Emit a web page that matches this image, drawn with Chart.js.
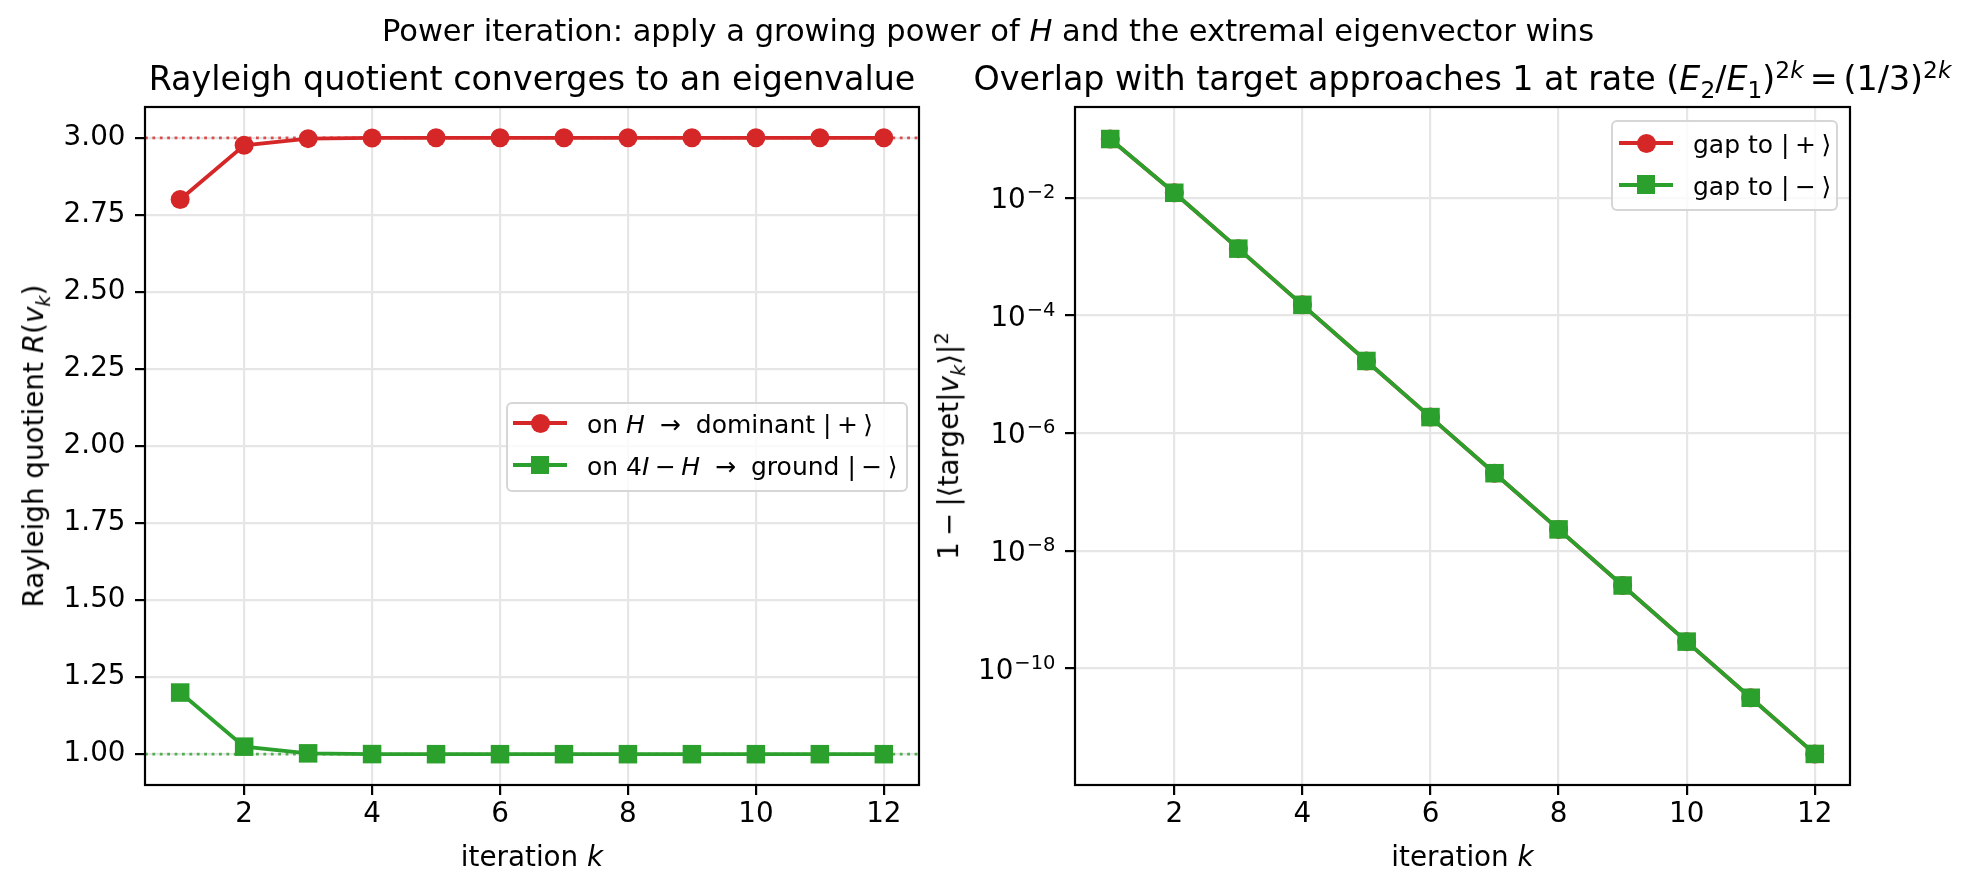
<!DOCTYPE html>
<html><head><meta charset="utf-8">
<script src="https://cdn.jsdelivr.net/npm/chart.js@4/dist/chart.umd.min.js"></script>
<style>
html,body{margin:0;padding:0;background:#fff;}
body{width:1976px;height:892px;position:relative;overflow:hidden;font-family:"DejaVu Sans",sans-serif;color:#000;}
canvas{position:absolute;top:0;}
.t{position:absolute;white-space:nowrap;line-height:1;}
.c{transform:translateX(-50%);}
.r{transform:translate(-50%,-50%) rotate(-90deg);}
sub,sup{font-size:70%;line-height:0;}
.bin{margin:0 0.22em;}
.rel{margin:0 0.28em;}
.eq{margin:0 0.18em;}
.leg{position:absolute;border:2px solid rgba(204,204,204,0.8);background:rgba(255,255,255,0.8);border-radius:6px;box-sizing:border-box;}
.hl{position:absolute;height:4px;margin-top:-2px;}
.mk{position:absolute;}
</style>
</head><body>
<canvas id="left" width="960" height="892" style="left:0px"></canvas>
<canvas id="right" width="1016" height="892" style="left:960px"></canvas>

<div class="t c" style="left:988px;top:16px;font-size:30.5px;">Power iteration: apply a growing power of <i>H</i> and the extremal eigenvector wins</div>
<div class="t c" style="left:532px;top:62px;font-size:33.3px;">Rayleigh quotient converges to an eigenvalue</div>
<div class="t c" style="left:1462.5px;top:62px;font-size:33.3px;">Overlap with target approaches 1 at rate (<i>E</i><sub>2</sub>/<i>E</i><sub>1</sub>)<sup>2<i>k</i></sup><span class="eq">=</span>(1/3)<sup>2<i>k</i></sup></div>
<div class="t c" style="left:532px;top:842.5px;font-size:27.8px;">iteration <i>k</i></div>
<div class="t c" style="left:1462.5px;top:842.5px;font-size:27.8px;">iteration <i>k</i></div>
<div class="t r" style="left:34px;top:446px;font-size:27.8px;">Rayleigh quotient <i>R</i>(<i>v</i><sub><i>k</i></sub>)</div>
<div class="t r" style="left:949px;top:446px;font-size:27.8px;">1<span class="bin">−</span>|⟨target|<i>v</i><sub><i>k</i></sub>⟩|<sup>2</sup></div>

<div class="leg" style="left:506px;top:402px;width:402px;height:90px;"></div>
<div class="hl" style="left:513px;top:423px;width:54px;background:#d62728;"></div>
<div class="mk" style="left:530.5px;top:413.5px;width:19px;height:19px;border-radius:50%;background:#d62728;"></div>
<div class="t" style="left:587px;top:412px;font-size:25px;">on <i>H</i> <span class="rel">→</span> dominant |<span class="bin">+</span>⟩</div>
<div class="hl" style="left:513px;top:465px;width:54px;background:#2ca02c;"></div>
<div class="mk" style="left:530.75px;top:455.75px;width:18.5px;height:18.5px;background:#2ca02c;"></div>
<div class="t" style="left:587px;top:454px;font-size:25px;">on 4<i>I</i><span class="bin">−</span><i>H</i> <span class="rel">→</span> ground |<span class="bin">−</span>⟩</div>

<div class="leg" style="left:1611px;top:120px;width:227px;height:91px;"></div>
<div class="hl" style="left:1619px;top:143px;width:54px;background:#d62728;"></div>
<div class="mk" style="left:1636.5px;top:133.5px;width:19px;height:19px;border-radius:50%;background:#d62728;"></div>
<div class="t" style="left:1693px;top:132px;font-size:25px;">gap to |<span class="bin">+</span>⟩</div>
<div class="hl" style="left:1619px;top:184.5px;width:54px;background:#2ca02c;"></div>
<div class="mk" style="left:1636.75px;top:175.25px;width:18.5px;height:18.5px;background:#2ca02c;"></div>
<div class="t" style="left:1693px;top:173.5px;font-size:25px;">gap to |<span class="bin">−</span>⟩</div>

<script>
// ---- data ----
const iterations = [1, 2, 3, 4, 5, 6, 7, 8, 9, 10, 11, 12];
const rayleighOnH = [2.8, 2.9756, 2.9973, 2.9997, 3.0, 3.0, 3.0, 3.0, 3.0, 3.0, 3.0, 3.0];
const rayleighOnShifted = [1.2, 1.0244, 1.0027, 1.0003, 1.0, 1.0, 1.0, 1.0, 1.0, 1.0, 1.0, 1.0];
const gapToPlus = [1.0e-1, 1.22e-2, 1.37e-3, 1.52e-4, 1.69e-5, 1.88e-6, 2.09e-7, 2.32e-8, 2.58e-9, 2.87e-10, 3.19e-11, 3.54e-12];
const gapToMinus = [1.0e-1, 1.22e-2, 1.37e-3, 1.52e-4, 1.69e-5, 1.88e-6, 2.09e-7, 2.32e-8, 2.58e-9, 2.87e-10, 3.19e-11, 3.54e-12];
const eigenvalueLines = [3.0, 1.0];
const iterationTicks = [2, 4, 6, 8, 10, 12];
const iterationTickLabels = ['2', '4', '6', '8', '10', '12'];
const rayleighTicks = [1.00, 1.25, 1.50, 1.75, 2.00, 2.25, 2.50, 2.75, 3.00];
const rayleighTickLabels = ['1.00', '1.25', '1.50', '1.75', '2.00', '2.25', '2.50', '2.75', '3.00'];
const gapTicks = [1e-10, 1e-8, 1e-6, 1e-4, 1e-2];
const gapTickBase = '10';
const gapTickExponents = ['\u221210', '\u22128', '\u22126', '\u22124', '\u22122'];

const RED = '#d62728', GREEN = '#2ca02c';
const FONT = {family: 'DejaVu Sans', size: 27.8, lineHeight: 1};

const pts = ys => iterations.map((x, i) => ({x, y: ys[i]}));

const framePlugin = {
  id: 'frame',
  afterDraw(c) {
    const a = c.chartArea, ctx = c.ctx;
    ctx.save();
    ctx.strokeStyle = '#000'; ctx.lineWidth = 2.2;
    ctx.strokeRect(a.left, a.top, a.right - a.left, a.bottom - a.top);
    ctx.restore();
  }
};
const refLinePlugin = {
  id: 'refLines',
  beforeDatasetsDraw(c, args, opts) {
    if (!opts.lines) return;
    const a = c.chartArea, ctx = c.ctx, ys = c.scales.y;
    opts.lines.forEach(l => {
      const py = ys.getPixelForValue(l.value);
      ctx.save();
      ctx.strokeStyle = l.color; ctx.globalAlpha = 0.8;
      ctx.lineWidth = 2.8; ctx.setLineDash([2.8, 4.6]);
      ctx.beginPath(); ctx.moveTo(a.left, py); ctx.lineTo(a.right, py); ctx.stroke();
      ctx.restore();
    });
  }
};
// log-axis labels drawn as 10 with a raised, smaller exponent (mathtext style)
const powerLabelPlugin = {
  id: 'powerLabels',
  afterDraw(c) {
    const ctx = c.ctx, ys = c.scales.y, a = c.chartArea;
    const rightX = a.left - 10 - 9.5;
    ctx.save();
    ctx.fillStyle = '#000';
    ctx.textAlign = 'right';
    ctx.textBaseline = 'alphabetic';
    gapTicks.forEach((v, i) => {
      const py = ys.getPixelForValue(v);
      ctx.font = '19.5px "DejaVu Sans"';
      const ew = ctx.measureText(gapTickExponents[i]).width;
      ctx.fillText(gapTickExponents[i], rightX, py);
      ctx.font = '27.8px "DejaVu Sans"';
      ctx.fillText(gapTickBase, rightX - ew - 1, py + 10);
    });
    ctx.restore();
  }
};

function axis(extra) {
  return Object.assign({
    border: {display: false},
    grid: {color: '#e6e6e6', lineWidth: 2.2, drawTicks: true, tickLength: 10, tickColor: '#000', tickWidth: 2.2},
  }, extra);
}
function ds(label, ys, color, style, radius, order) {
  return {label, data: pts(ys), order, borderColor: color, backgroundColor: color, borderWidth: 3.8,
    pointStyle: style, pointRadius: radius, pointBorderWidth: 0, pointBackgroundColor: color, tension: 0, fill: false};
}
function xAxis() {
  return axis({
    type: 'linear', min: 0.45, max: 12.55,
    afterBuildTicks: s => { s.ticks = iterationTicks.map(v => ({value: v})); },
    afterFit: s => { s.height = 107; },
    ticks: {font: FONT, color: '#000', padding: 6, autoSkip: false, maxRotation: 0, minRotation: 0,
      callback: (v, i) => iterationTickLabels[i]}
  });
}

new Chart(document.getElementById('left'), {
  type: 'line',
  data: {datasets: [
    ds('on H → dominant |+⟩', rayleighOnH, RED, 'circle', 9.5, 1),
    ds('on 4I − H → ground |−⟩', rayleighOnShifted, GREEN, 'rect', 13.1, 0)
  ]},
  options: {
    responsive: false, animation: false, events: [],
    layout: {padding: {left: 0, top: 107, right: 41, bottom: 0}},
    plugins: {legend: {display: false}, tooltip: {enabled: false},
      refLines: {lines: [{value: eigenvalueLines[0], color: RED}, {value: eigenvalueLines[1], color: GREEN}]}},
    scales: {
      x: xAxis(),
      y: axis({type: 'linear', min: 0.9, max: 3.1,
        afterBuildTicks: s => { s.ticks = rayleighTicks.map(v => ({value: v})); },
        afterFit: s => { s.width = 145; },
        ticks: {font: FONT, color: '#000', padding: 9.5, autoSkip: false, callback: (v, i) => rayleighTickLabels[i]}})
    }
  },
  plugins: [framePlugin, refLinePlugin]
});

new Chart(document.getElementById('right'), {
  type: 'line',
  data: {datasets: [
    ds('gap to |+⟩', gapToPlus, RED, 'circle', 9.5, 1),
    ds('gap to |−⟩', gapToMinus, GREEN, 'rect', 13.1, 0)
  ]},
  options: {
    responsive: false, animation: false, events: [],
    layout: {padding: {left: 0, top: 107, right: 126, bottom: 0}},
    plugins: {legend: {display: false}, tooltip: {enabled: false}},
    scales: {
      x: xAxis(),
      y: axis({type: 'logarithmic', min: 1.05e-12, max: 0.35,
        afterBuildTicks: s => { s.ticks = gapTicks.map(v => ({value: v})); },
        afterFit: s => { s.width = 115; },
        ticks: {display: false}})
    }
  },
  plugins: [framePlugin, powerLabelPlugin]
});
</script>
</body></html>
